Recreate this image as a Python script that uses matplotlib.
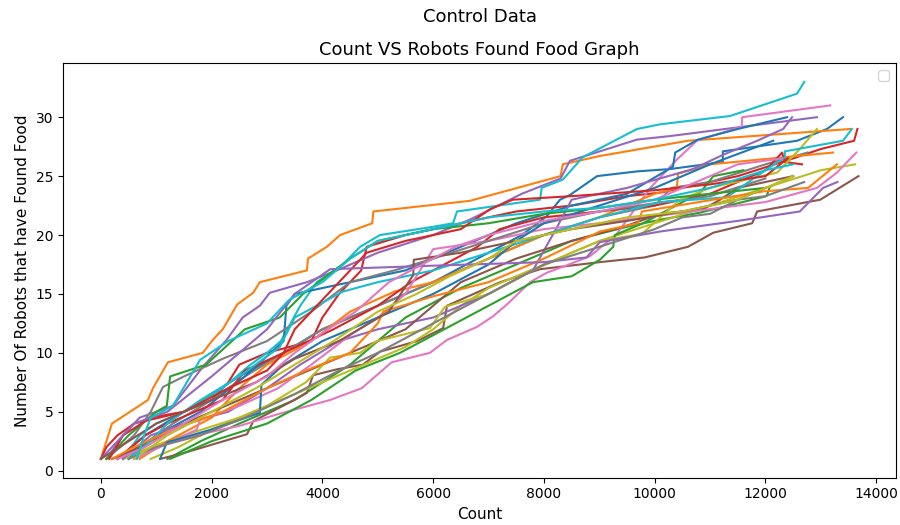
import matplotlib
matplotlib.use('Agg')
from matplotlib import pyplot as plt

# runs: count at which the robot number (y) was reached, one pair of lists per run
# blue
x01 = [300, 800, 1500, 2500, 3300, 4000, 5000, 6000, 7000, 7600, 8050, 8290, 8470, 8960, 9680, 10280, 11230, 11230, 12570, 13110, 13400]
y01 = [1, 3, 5, 8, 10, 12, 14, 16, 18.5, 20, 21.6, 23, 23.4, 25, 25.4, 25.6, 26.2, 27.1, 28, 29, 30]
# orange
x02 = [0, 200, 850, 940, 1210, 1840, 2020, 2200, 2460, 2750, 2870, 3720, 3740, 4080, 4320, 4900, 4920, 6660, 8300, 8340, 9000, 10600, 13530]
y02 = [1, 4, 6, 7, 9.2, 10, 11.1, 12, 14.1, 15.1, 16, 17, 18, 19, 20, 21, 22, 22.9, 25, 26, 26.7, 28, 29]
# green
x03 = [1200, 1800, 2500, 3500, 4500, 5000, 5500, 6500, 7500, 8500, 9500, 10100, 10820, 12020, 12080, 12500]
y03 = [1, 2.5, 4, 6, 9, 11, 13, 15.5, 17.5, 19.5, 20.7, 21.3, 21.9, 23.3, 24.1, 25]
# red
x04 = [0, 100, 300, 600, 1500, 2000, 2300, 2500, 3000, 3800, 4000, 4300, 4700, 4800, 5500, 6500, 7500, 8500, 9500, 10100, 11500, 12500, 13000, 13600, 13660]
y04 = [1, 2, 3, 4, 5, 6, 7.5, 9, 10, 11, 13, 15, 17, 19, 20, 21, 22, 22.5, 23.3, 23.6, 25, 26.5, 27.3, 28, 29]
# purple
x05 = [100, 400, 700, 1300, 1840, 2270, 2560, 2870, 3050, 3720, 4260, 5000, 6000, 6660, 7600, 8300, 8470, 9680, 10280, 12930]
y05 = [1, 3, 4.5, 5.5, 8.8, 11.1, 13, 14, 15.1, 16, 17, 18.5, 20, 21.3, 23.5, 24.8, 26.3, 28.1, 28.4, 30]
# brown
x06 = [1070, 1500, 2640, 2750, 3410, 3720, 3830, 4260, 4730, 5040, 5710, 6180, 6250, 7210, 7930, 9010, 9820, 10600, 11060, 11760, 11850, 12990, 13680]
y06 = [1, 1.5, 3.1, 4.2, 5.8, 6.6, 8.1, 8.6, 9, 10.1, 11, 12.1, 14, 16, 17.1, 17.7, 18.1, 19, 20.2, 21, 22, 23, 25]
# pink
x07 = [200, 1000, 1700, 2500, 3200, 4140, 4710, 5250, 5940, 6250, 6790, 7080, 7330, 7750, 8050, 8340, 8830, 9300, 9920, 10400, 10760, 11570, 11580, 13170]
y07 = [1, 2, 3, 3.8, 4.8, 6, 7, 9.2, 10, 11.1, 12.2, 13.1, 14.1, 16, 16.8, 17.3, 18.2, 20, 24, 26.4, 28, 29.2, 30, 31]
# gray
x08 = [400, 700, 1300, 2000, 2600, 3300, 4000, 5000, 6000, 7000, 8000, 9000, 10000, 10300, 11000, 12000, 12760]
y08 = [1, 2, 4, 6, 8, 10, 12, 14, 16, 18, 20, 21.5, 22.5, 24, 24.5, 26, 27]
# olive
x09 = [400, 900, 1500, 2500, 3500, 4500, 5500, 6000, 6500, 7000, 8000, 9000, 10000, 11000, 12000, 13000, 13620]
y09 = [1, 2, 3, 4.5, 6.5, 8.5, 10.5, 12, 14, 15.5, 17.5, 19.5, 21, 22.5, 24, 25.5, 26]
# cyan
x10 = [400, 700, 1000, 1500, 2200, 2700, 3000, 3250, 3600, 3900, 4370, 4680, 5040, 6000, 6360, 6430, 7930, 7960, 8340, 8700, 9680, 10100, 11360, 12570, 12700]
y10 = [1, 3, 4, 5, 7, 9, 10, 11, 14, 16, 17.5, 19, 20, 20.7, 21, 22, 23, 24, 24.7, 26.6, 29, 29.4, 30.1, 32, 33]

x11 = [500, 1000, 1800, 2600, 3300, 3350, 3500, 4500, 5500, 6500, 7500, 8500, 9500, 10330, 10370, 10780, 11500, 12390]
y11 = [1, 3, 5, 8, 11, 14, 15, 16, 17, 19, 21, 22.5, 23.5, 25.8, 27, 28.1, 29, 30]
x12 = [700, 1200, 2000, 2500, 3000, 3800, 4500, 5300, 6000, 7000, 8000, 9000, 10000, 10400, 10420, 11000, 13220]
y12 = [1, 2.5, 4.5, 7, 9, 11, 13.5, 15.2, 16, 18, 20, 21.5, 23.5, 24, 25.2, 26, 27]
x13 = [1250, 2000, 3000, 3800, 4600, 5400, 6200, 7000, 7800, 8500, 9010, 9250, 9280, 9790, 10820, 11060, 11600]
y13 = [1, 2.5, 4, 6, 8.5, 10, 12, 14, 16, 16.5, 17.9, 19, 20, 21, 23.6, 25, 25.5]
x14 = [300, 800, 1200, 2200, 2600, 3300, 4200, 5000, 5600, 6200, 6800, 7200, 8000, 9000, 10000, 11000, 12000, 12300, 12350, 12660]
y14 = [1, 3, 4, 6, 8.5, 10, 12, 14, 16, 17.5, 19, 20.5, 21.5, 22, 22.5, 23.5, 25.5, 27, 26.2, 26]
x15 = [400, 900, 1500, 2300, 3000, 3600, 4300, 5000, 6000, 7000, 7800, 8240, 8500, 9500, 10690, 11230, 11850, 12320, 12480]
y15 = [1, 3, 4, 5, 7, 9, 11, 12, 13, 15, 17, 20.7, 23, 24, 25.6, 26.8, 28, 29, 30]
x16 = [200, 700, 1500, 2500, 3500, 4500, 5500, 6000, 6500, 7500, 8500, 9500, 10100, 10880, 11180, 11500, 12500]
y16 = [1, 2, 4, 6, 8, 10, 12, 14, 16, 18, 19.5, 20.8, 21.8, 22.2, 23, 24, 25]
x17 = [600, 1300, 1730, 1790, 2500, 3200, 3800, 4500, 5000, 5500, 6000, 7000, 8000, 9000, 10000, 11000, 12000, 12930, 13290, 13640]
y17 = [1, 2.5, 3.5, 4.3, 5.5, 7, 9, 11.5, 13, 15, 18.8, 19.5, 20.5, 21, 21.6, 22.2, 22.8, 24, 25.3, 27]
x18 = [100, 600, 900, 1120, 1500, 2200, 3000, 3800, 4500, 5300, 6000, 7000, 8000, 9000, 10000, 11000, 12000]
y18 = [1, 3, 5, 7.1, 8, 9.5, 11, 13.5, 16, 17, 18, 19.5, 21, 22, 22.7, 23.3, 24.8]
x19 = [900, 1400, 2000, 3000, 3700, 4140, 4680, 4980, 5940, 6210, 7000, 7800, 8500, 9010, 9770, 10460, 11000, 12210, 12620, 12930]
y19 = [1, 2, 3.5, 5.5, 7.5, 9.6, 10, 11, 12.1, 13.9, 15, 17, 18.5, 19.5, 20.1, 23, 24, 25.3, 27.3, 29]
x20 = [500, 900, 1200, 1800, 2500, 3230, 3500, 4370, 5000, 6000, 7000, 8000, 9000, 10100, 11300, 12000, 12350, 12350, 13400, 13560]
y20 = [1, 2.5, 4, 6, 8, 10.5, 13, 15.2, 16, 17, 18.5, 20, 21.5, 22.8, 23.2, 25.5, 26.6, 27.1, 28, 29]

x21 = [1070, 1190, 2000, 2870, 2900, 3300, 4000, 5000, 6000, 7000, 7500, 8000, 9000, 10000, 11000, 12140]
y21 = [1, 2.4, 3.5, 4.9, 7.3, 9, 11, 13, 15, 17.5, 19.5, 21, 22.5, 24, 26, 28]
x22 = [200, 600, 1300, 2200, 3000, 3700, 4500, 5000, 5100, 6000, 7000, 8000, 9010, 9700, 9770, 11960, 12770, 13290]
y22 = [1, 2, 3.5, 5, 7, 8.5, 10, 12.5, 13.5, 14.8, 16, 18, 20.3, 21, 22, 23.7, 24, 26]
x23 = [100, 500, 1000, 1190, 1250, 1900, 2600, 3230, 3650, 4500, 5000, 6000, 7000, 8000, 9000, 10000, 11000, 12000]
y23 = [1, 3, 5, 5.5, 8, 9, 12, 13, 15, 18, 19.5, 20.5, 21, 21.8, 22.3, 23, 23.5, 24]
x24 = [150, 400, 900, 1500, 2300, 3000, 3300, 3500, 3900, 4300, 4800, 5500, 6500, 7030, 7440, 8500, 10000, 11000, 12000, 12400]
y24 = [1, 3, 4.5, 5, 7, 8.5, 10, 12, 14, 16, 18.5, 19.5, 20.5, 22.2, 23, 23.3, 23.8, 24.3, 25, 26.5]
x25 = [0, 300, 600, 1200, 2000, 2500, 3000, 3500, 4140, 6000, 8000, 8770, 9010, 10100, 11500, 12620, 13040, 13300]
y25 = [1, 2.5, 4, 5, 8, 10, 12, 15, 17.1, 17.4, 17.7, 18.1, 19.4, 20.3, 21.2, 22, 24, 24.5]
x26 = [0, 500, 1000, 2000, 2800, 3500, 4300, 5200, 5640, 5650, 6500, 7500, 8500, 9500, 10500, 11500, 12000]
y26 = [1, 2.5, 4, 6, 7.5, 9.5, 11, 13.5, 16.6, 17.9, 18.5, 19.5, 20.5, 21.2, 22, 23, 24]
x27 = [300, 800, 1500, 2200, 3000, 3500, 4100, 4600, 5200, 5800, 6400, 7000, 8000, 9000, 10000, 11000, 11500, 12300]
y27 = [1, 2, 4, 6, 8, 10, 12, 13.5, 16, 17.5, 19, 20, 21.2, 22, 23, 25, 26, 26.5]
x28 = [500, 1000, 1800, 2600, 3500, 4300, 5000, 6000, 6600, 7000, 8000, 9000, 10000, 10500, 11000, 11500, 12000, 12700]
y28 = [1, 2, 3, 4.5, 6.5, 8.5, 10, 12.5, 14, 15, 17.5, 19, 20.5, 21.5, 21.8, 23, 23.3, 24.5]
x29 = [600, 1200, 2000, 2800, 3500, 4200, 5000, 5700, 6300, 7000, 7500, 8500, 9500, 10500, 11500, 12500]
y29 = [1, 3, 5, 7, 9, 11, 13.5, 15, 16.5, 18, 19.5, 20.5, 21.5, 22, 23, 25]
x30 = [650, 780, 900, 1300, 1790, 2300, 3000, 3400, 4000, 4500, 5000, 6000, 7000, 8000, 9000, 10000, 11000, 12000, 12500]
y30 = [1, 3, 4.5, 5.5, 9.4, 11, 12.5, 14.5, 16, 18, 19.5, 20.5, 21.5, 22, 22.3, 23, 24, 25.5, 26]

runs = [(x01, y01), (x02, y02), (x03, y03), (x04, y04), (x05, y05),
        (x06, y06), (x07, y07), (x08, y08), (x09, y09), (x10, y10),
        (x11, y11), (x12, y12), (x13, y13), (x14, y14), (x15, y15),
        (x16, y16), (x17, y17), (x18, y18), (x19, y19), (x20, y20),
        (x21, y21), (x22, y22), (x23, y23), (x24, y24), (x25, y25),
        (x26, y26), (x27, y27), (x28, y28), (x29, y29), (x30, y30)]

fig = plt.figure(figsize=(9, 5.25), dpi=100)
ax = fig.add_axes([0.07, 0.09, 0.926, 0.79])
for xs, ys in runs:
    ax.plot(xs, ys, linewidth=1.5)

# suptitle sits over the axes centre in the reference
fig.suptitle('Control Data', fontsize=13, x=0.533, y=0.985)
ax.set_title('Count VS Robots Found Food Graph', fontsize=13)
ax.set_xlabel('Count', fontsize=11)
ax.set_ylabel('Number Of Robots that have Found Food', fontsize=11)
ax.set_xticks(range(0, 14001, 2000))
ax.set_yticks(range(0, 31, 5))
ax.legend(loc='upper right')

fig.savefig('out.png')
